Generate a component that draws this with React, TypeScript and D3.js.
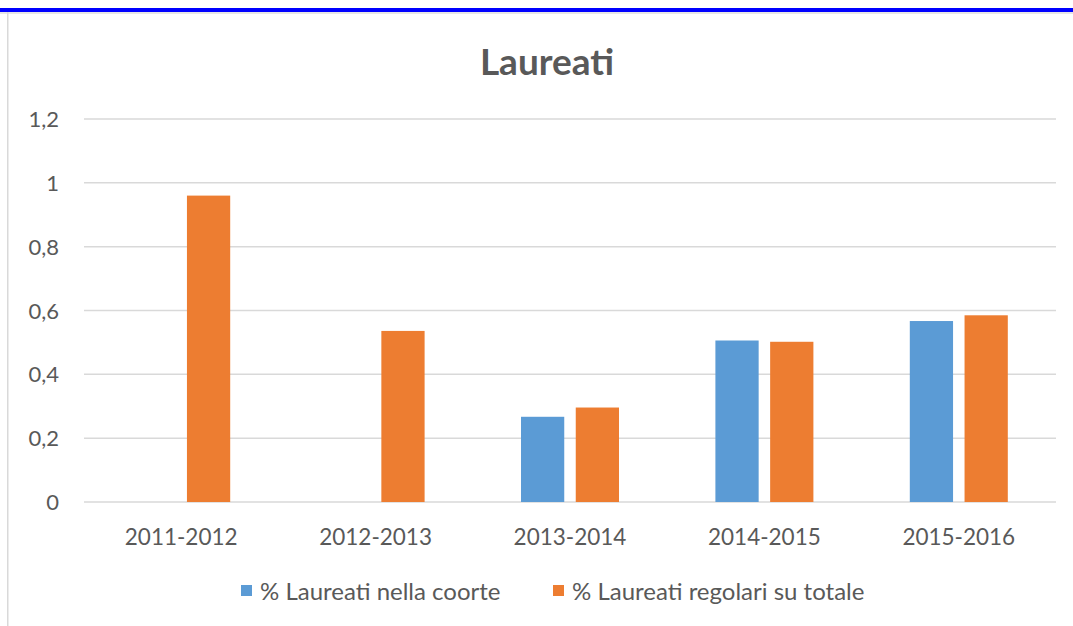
import React from "react";
import * as d3 from "d3";

const categories = ["2011-2012", "2012-2013", "2013-2014", "2014-2015", "2015-2016"];
const seriesNames = ["% Laureati nella coorte", "% Laureati regolari su totale"];
const coorte: (number | null)[] = [null, null, 0.267, 0.506, 0.567];
const regolari: (number | null)[] = [0.96, 0.536, 0.296, 0.502, 0.585];
const yTicks = [0, 0.2, 0.4, 0.6, 0.8, 1, 1.2];
const colors = ["#5B9BD5", "#ED7D31"];

const W = 1073;
const H = 626;
const FONT = "Lato, 'Open Sans', sans-serif";

export default function App() {
  const x = d3.scaleBand<string>().domain(categories).range([84, 1056]);
  const y = d3.scaleLinear().domain([0, 1.2]).range([502, 119]);
  const inner = d3.scaleBand<number>().domain([0, 1]).range([-49, 49]).paddingInner(0.21);
  const series = [coorte, regolari];
  const fmt = (v: number) => String(v).replace(".", ",");

  return (
    <svg width={W} height={H} style={{ position: "absolute", left: 0, top: 0, background: "#fff" }}>
      <rect x={0} y={0} width={W} height={H} fill="#fff" />
      <rect x={0} y={8} width={W} height={4} fill="#0000FF" />
      <rect x={0} y={12} width={W} height={2} fill="#E6E6E6" />
      <rect x={7} y={12} width={1.5} height={H - 12} fill="#D9D9D9" />
      <text x={547} y={75} textAnchor="middle" fontFamily={FONT} fontWeight="bold" fontSize={37} fill="#595959">
        Laureati
      </text>
      {yTicks.map((t) => (
        <g key={t}>
          <line x1={84} x2={1056} y1={y(t)} y2={y(t)} stroke="#D9D9D9" strokeWidth={1.5} />
          <text x={59} y={y(t) + 8} textAnchor="end" fontFamily={FONT} fontSize={22} fill="#595959">
            {fmt(t)}
          </text>
        </g>
      ))}
      {series.map((s, si) =>
        s.map((v, ci) =>
          v == null ? null : (
            <rect
              key={`${si}-${ci}`}
              x={(x(categories[ci]) as number) + x.bandwidth() / 2 + (inner(si) as number)}
              y={y(v)}
              width={inner.bandwidth()}
              height={y(0) - y(v)}
              fill={colors[si]}
            />
          )
        )
      )}
      {categories.map((c) => (
        <text key={c} x={(x(c) as number) + x.bandwidth() / 2} y={545} textAnchor="middle" fontFamily={FONT} fontSize={22.5} fill="#595959">
          {c}
        </text>
      ))}
      {seriesNames.map((n, i) => {
        const lx = [241, 553][i];
        return (
          <g key={n}>
            <rect x={lx} y={585} width={11} height={11} fill={colors[i]} />
            <text x={lx + 19} y={600} fontFamily={FONT} fontSize={24} fill="#595959">
              {n}
            </text>
          </g>
        );
      })}
    </svg>
  );
}
